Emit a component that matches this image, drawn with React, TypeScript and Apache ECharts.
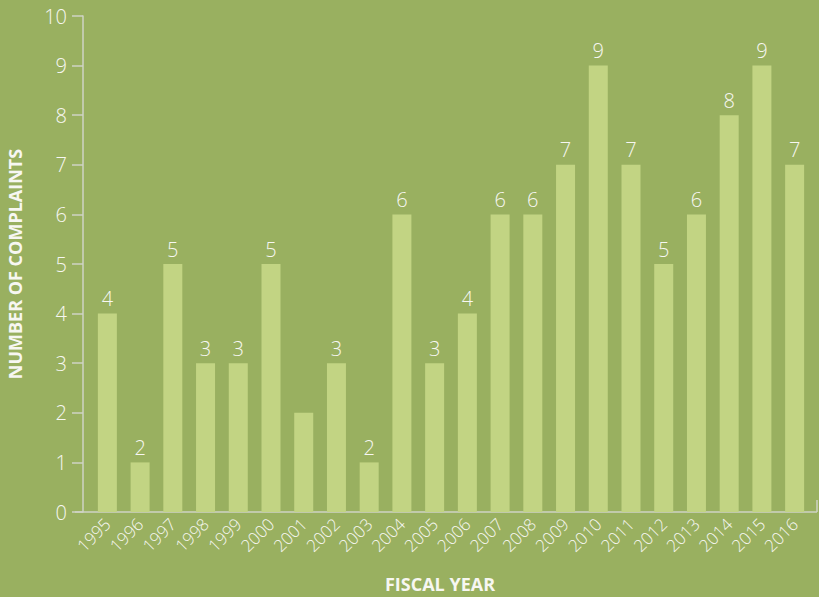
import React, { useEffect, useRef } from "react";
import * as echarts from "echarts";

const years = ["1995","1996","1997","1998","1999","2000","2001","2002","2003","2004","2005","2006","2007","2008","2009","2010","2011","2012","2013","2014","2015","2016"];
const barValues = [4, 1, 5, 3, 3, 5, 2, 3, 1, 6, 3, 4, 6, 6, 7, 9, 7, 5, 6, 8, 9, 7];
const labelValues = ["4","2","5","3","3","5","","3","2","6","3","4","6","6","7","9","7","5","6","8","9","7"];
const yTicks = { min: 0, max: 10, interval: 1 };

const BG = "#99b060";
const BAR = "#c2d483";
const AXIS = "#cfd3c4";
const TEXT = "#f7f7f2";
const FONT = "'Open Sans', Lato, sans-serif";

export default function App() {
  const ref = useRef<HTMLDivElement>(null);
  useEffect(() => {
    if (!ref.current) return;
    const chart = echarts.init(ref.current, null, { renderer: "svg" });
    chart.setOption({
      animation: false,
      backgroundColor: BG,
      grid: { left: 91, right: 8, top: 16, bottom: 85, containLabel: false },
      xAxis: {
        type: "category",
        data: years,
        axisLine: { show: false },
        axisTick: { show: false },
        axisLabel: {
          rotate: 45,
          color: TEXT,
          fontSize: 17,
          fontFamily: FONT,
          fontWeight: 300,
          margin: 9,
          interval: 0,
        },
      },
      yAxis: {
        type: "value",
        min: yTicks.min,
        max: yTicks.max,
        interval: yTicks.interval,
        offset: 8,
        axisLine: { show: true, lineStyle: { color: AXIS, width: 1.5 } },
        axisTick: { show: true, length: 11, lineStyle: { color: AXIS, width: 1.5 } },
        splitLine: { show: false },
        axisLabel: {
          color: TEXT,
          fontSize: 20,
          fontFamily: FONT,
          fontWeight: 300,
          margin: 16,
        },
      },
      series: [
        {
          type: "bar",
          data: barValues,
          barWidth: 19,
          itemStyle: { color: BAR },
          label: {
            show: true,
            position: "top",
            distance: 5,
            color: TEXT,
            fontSize: 20,
            fontFamily: FONT,
            fontWeight: 300,
            formatter: (p: any) => labelValues[p.dataIndex] ?? "",
          },
        },
      ],
      graphic: [
        {
          type: "line",
          shape: { x1: 75, y1: 512, x2: 817, y2: 512 },
          style: { stroke: AXIS, lineWidth: 1.5 },
        },
        {
          type: "line",
          shape: { x1: 817, y1: 500, x2: 817, y2: 512 },
          style: { stroke: AXIS, lineWidth: 1.5 },
        },
        {
          type: "text",
          x: 440,
          y: 584,
          style: {
            text: "FISCAL YEAR",
            fill: TEXT,
            font: `bold 18px ${FONT}`,
            textAlign: "center",
            textVerticalAlign: "middle",
          },
        },
        {
          type: "text",
          x: 15,
          y: 264,
          rotation: Math.PI / 2,
          style: {
            text: "NUMBER OF COMPLAINTS",
            fill: TEXT,
            font: `bold 18px ${FONT}`,
            textAlign: "center",
            textVerticalAlign: "middle",
          },
        },
      ],
    });
    return () => chart.dispose();
  }, []);
  return (
    <div
      ref={ref}
      style={{ position: "fixed", left: 0, top: 0, width: 819, height: 597 }}
    />
  );
}
